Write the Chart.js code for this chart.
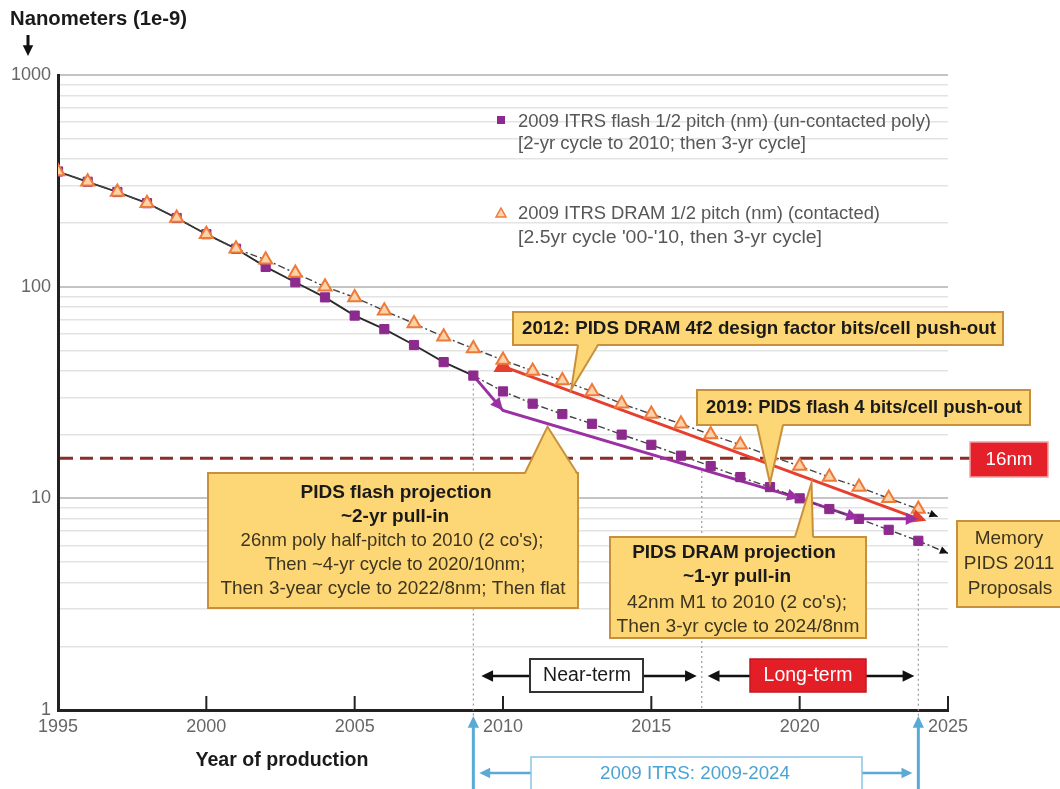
<!DOCTYPE html>
<html>
<head>
<meta charset="utf-8">
<script src="https://cdn.jsdelivr.net/npm/chart.js@4.4.1/dist/chart.umd.min.js"></script>
<style>
  html, body { margin: 0; padding: 0; background: #fff; }
  #wrap { width: 1060px; height: 789px; position: relative; }
</style>
</head>
<body>
<div id="wrap"><canvas id="chart" width="1060" height="789"></canvas></div>
<script>
// --- data ---
const years = [1995, 1996, 1997, 1998, 1999, 2000, 2001, 2002, 2003, 2004, 2005, 2006, 2007, 2008, 2009,
               2010, 2011, 2012, 2013, 2014, 2015, 2016, 2017, 2018, 2019, 2020, 2021, 2022, 2023, 2024];
const flashNm = [350, 313, 280, 248, 211, 177, 151, 124, 105, 89, 73, 63, 53, 44, 38,
                 32, 28, 25, 22.5, 20, 17.9, 15.9, 14.2, 12.6, 11.3, 10.0, 8.9, 8.0, 7.1, 6.3];
const dramNm = [350, 313, 280, 248, 211, 177, 151, 134, 116, 100, 89, 77, 67, 58, 51,
                45, 40, 36, 32, 28, 25, 22.5, 20, 17.9, 15.9, 14.2, 12.6, 11.3, 10.0, 8.9];

// trend extensions past the last ITRS point
const dramTrendYears = [2024, 2024.65];
const dramTrendNm = [8.9, 8.2];
const flashTrendYears = [2024, 2025];
const flashTrendNm = [6.3, 5.5];

// PIDS 2011 proposals
const pidsDramYears = [2010, 2024];
const pidsDramNm = [42, 8];
const pidsFlashYears = [2009, 2010, 2020, 2022, 2024];
const pidsFlashNm = [38, 26, 10, 8, 8];

const limitNm = 16;
const termBounds = [2009, 2016.7, 2024];
const yMajorTicks = [1, 10, 100, 1000];

const FONT = '"Liberation Sans", Arial, sans-serif';

const purple = '#8c2a8e';
const orange = '#ee7a3a';
const triFill = '#fcd2a8';
const red = '#e5402f';
const pidsPurple = '#9b30a5';
const boxFill = '#fdd775';
const boxEdge = '#c8903c';
const blue = '#5aaad8';

const pts = (xs, vs) => xs.map((x, i) => ({ x: x, y: vs[i] }));

// value on a line (log interpolation) between data points
function onLine(xs, vs, yr) {
    for (let i = 1; i < xs.length; i++) {
        if (yr <= xs[i]) {
            const t = (yr - xs[i - 1]) / (xs[i] - xs[i - 1]);
            return Math.pow(10, Math.log10(vs[i - 1]) + t * (Math.log10(vs[i]) - Math.log10(vs[i - 1])));
        }
    }
    return vs[vs.length - 1];
}

function arrowHead(ctx, x1, y1, x2, y2, size, color) {
    const ang = Math.atan2(y2 - y1, x2 - x1);
    ctx.save();
    ctx.fillStyle = color;
    ctx.beginPath();
    ctx.moveTo(x2, y2);
    ctx.lineTo(x2 - size * Math.cos(ang - 0.45), y2 - size * Math.sin(ang - 0.45));
    ctx.lineTo(x2 - size * Math.cos(ang + 0.45), y2 - size * Math.sin(ang + 0.45));
    ctx.closePath();
    ctx.fill();
    ctx.restore();
}

function arrowLine(ctx, x1, y1, x2, y2, color, width, head) {
    ctx.save();
    ctx.strokeStyle = color;
    ctx.lineWidth = width;
    ctx.setLineDash([]);
    const ang = Math.atan2(y2 - y1, x2 - x1);
    ctx.beginPath();
    ctx.moveTo(x1, y1);
    ctx.lineTo(x2 - head * 0.8 * Math.cos(ang), y2 - head * 0.8 * Math.sin(ang));
    ctx.stroke();
    ctx.restore();
    arrowHead(ctx, x1, y1, x2, y2, head, color);
}

function box(ctx, x, y, w, h, fill, edge, lw) {
    ctx.save();
    ctx.fillStyle = fill;
    ctx.fillRect(x, y, w, h);
    ctx.strokeStyle = edge;
    ctx.lineWidth = lw || 2;
    ctx.strokeRect(x, y, w, h);
    ctx.restore();
}

// callout pointer from a box edge (base a..b at baseY) to a tip
function pointer(ctx, ax, bx, baseY, tx, ty) {
    const dir = ty < baseY ? 1 : -1;
    ctx.save();
    ctx.fillStyle = boxFill;
    ctx.beginPath();
    ctx.moveTo(ax, baseY + dir * 2);
    ctx.lineTo(tx, ty);
    ctx.lineTo(bx, baseY + dir * 2);
    ctx.closePath();
    ctx.fill();
    ctx.strokeStyle = boxEdge;
    ctx.lineWidth = 2;
    ctx.beginPath();
    ctx.moveTo(ax, baseY);
    ctx.lineTo(tx, ty);
    ctx.lineTo(bx, baseY);
    ctx.stroke();
    ctx.restore();
}

// text, optionally squeezed to the width it has in the picture
function text(ctx, str, x, y, size, color, bold, align, width) {
    ctx.save();
    ctx.font = (bold ? 'bold ' : '') + size + 'px ' + FONT;
    ctx.fillStyle = color;
    ctx.textBaseline = 'middle';
    ctx.textAlign = 'left';
    const natural = ctx.measureText(str).width;
    const w = width || natural;
    let left = x;
    if (!align || align === 'center') left = x - w / 2;
    else if (align === 'right') left = x - w;
    ctx.translate(left, y);
    ctx.scale(w / natural, 1);
    ctx.fillText(str, 0, 0);
    ctx.restore();
}

const overlay = {
    id: 'overlay',
    beforeDatasetsDraw(chart) {
        const { ctx, chartArea: a, scales: { x, y } } = chart;
        ctx.save();
        // dotted term boundaries
        ctx.strokeStyle = '#9a9a9a';
        ctx.lineWidth = 1.2;
        ctx.setLineDash([2, 3]);
        termBounds.forEach((yr, i) => {
            const px = x.getPixelForValue(yr);
            const top = y.getPixelForValue(onLine(years, flashNm, yr)) + 8;
            const bottom = i === 1 ? a.bottom : 789;
            ctx.beginPath();
            ctx.moveTo(px, top);
            ctx.lineTo(px, bottom);
            ctx.stroke();
        });
        // 16nm line
        const py = y.getPixelForValue(limitNm) + 3;
        ctx.strokeStyle = '#8a2e2a';
        ctx.lineWidth = 3;
        ctx.setLineDash([13, 7]);
        ctx.beginPath();
        ctx.moveTo(a.left + 2, py);
        ctx.lineTo(970, py);
        ctx.stroke();
        ctx.restore();
    },
    afterDatasetsDraw(chart) {
        const { ctx, chartArea: a, scales: { x, y } } = chart;
        const P = (xx, vv) => [x.getPixelForValue(xx), y.getPixelForValue(vv)];

        // arrowheads on trend extensions
        [[dramTrendYears, dramTrendNm], [flashTrendYears, flashTrendNm]].forEach(([xs, vs]) => {
            const p0 = P(xs[0], vs[0]);
            const p1 = P(xs[1], vs[1]);
            arrowHead(ctx, p0[0], p0[1], p1[0], p1[1], 9, '#111');
        });
        // PIDS DRAM end arrow
        const mD = chart.getDatasetMeta(4).data;
        arrowHead(ctx, mD[0].x, mD[0].y, mD[1].x + 8, mD[1].y + 2, 16, red);
        // PIDS flash arrows
        const mF = chart.getDatasetMeta(5).data;
        for (let j = 1; j < mF.length; j++) {
            arrowHead(ctx, mF[j - 1].x, mF[j - 1].y, mF[j].x, mF[j].y, 14, pidsPurple);
        }

        // x-axis inner ticks
        ctx.save();
        ctx.strokeStyle = '#222';
        ctx.lineWidth = 2;
        x.ticks.forEach(t => {
            if (t.value === 1995) return;
            const px = x.getPixelForValue(t.value);
            ctx.beginPath();
            ctx.moveTo(px, a.bottom);
            ctx.lineTo(px, a.bottom - 14);
            ctx.stroke();
        });
        ctx.restore();

        // legend
        ctx.save();
        ctx.fillStyle = purple;
        ctx.fillRect(497, 116, 8, 8);
        ctx.fillStyle = triFill;
        ctx.strokeStyle = orange;
        ctx.lineWidth = 1.5;
        ctx.beginPath();
        ctx.moveTo(501, 208); ctx.lineTo(506, 217); ctx.lineTo(496, 217); ctx.closePath();
        ctx.fill(); ctx.stroke();
        ctx.restore();
        const lg = '#575757';
        text(ctx, '2009 ITRS flash 1/2 pitch (nm) (un-contacted poly)', 518, 122, 18, lg, false, 'left', 413);
        text(ctx, '[2-yr cycle to 2010; then 3-yr cycle]', 518, 144, 18, lg, false, 'left', 288);
        text(ctx, '2009 ITRS DRAM 1/2 pitch (nm) (contacted)', 518, 214, 18, lg, false, 'left', 362);
        text(ctx, "[2.5yr cycle '00-'10, then 3-yr cycle]", 518, 238, 18, lg, false, 'left', 304);

        const dark = '#1a1a1a';
        const body = '#3d3520';

        // 2012 callout
        box(ctx, 513, 312, 490, 33, boxFill, boxEdge);
        let tip = P(2012.3, onLine(pidsDramYears, pidsDramNm, 2012.3));
        pointer(ctx, 578, 598, 345, tip[0], tip[1] - 2);
        text(ctx, '2012: PIDS DRAM 4f2 design factor bits/cell push-out', 759, 329, 19, dark, true, 'center', 474);

        // 2019 callout
        box(ctx, 697, 390, 333, 35, boxFill, boxEdge);
        tip = P(2019, onLine(years, flashNm, 2019));
        pointer(ctx, 757, 783, 425, tip[0], tip[1] - 4);
        text(ctx, '2019: PIDS flash 4 bits/cell push-out', 864, 408, 19, dark, true, 'center', 316);

        // 16nm tag
        box(ctx, 970, 442, 78, 35, '#e4202a', '#f4a0a0', 1.5);
        text(ctx, '16nm', 1009, 460, 19, '#fff', false, 'center', 47);

        // PIDS flash box
        box(ctx, 208, 473, 370, 135, boxFill, boxEdge);
        tip = P(2011.5, onLine(pidsFlashYears, pidsFlashNm, 2011.5));
        pointer(ctx, 525, 577, 473, tip[0], tip[1] + 3);
        text(ctx, 'PIDS flash projection', 396, 493, 19, dark, true);
        text(ctx, '~2-yr pull-in', 395, 517, 19, dark, true);
        text(ctx, "26nm poly half-pitch to 2010 (2 co's);", 392, 541, 18.5, body, false);
        text(ctx, 'Then ~4-yr cycle to 2020/10nm;', 395, 565, 18.5, body, false);
        text(ctx, 'Then 3-year cycle to 2022/8nm; Then flat', 393, 589, 18.5, body, false, 'center', 345);

        // PIDS DRAM box
        box(ctx, 610, 537, 256, 101, boxFill, boxEdge);
        tip = P(2020.4, onLine(pidsDramYears, pidsDramNm, 2020.4));
        pointer(ctx, 795, 813, 537, tip[0], tip[1] + 3);
        text(ctx, 'PIDS DRAM projection', 734, 553, 19, dark, true);
        text(ctx, '~1-yr pull-in', 737, 577, 19, dark, true);
        text(ctx, "42nm M1 to 2010 (2 co's);", 737, 603, 19, body, false);
        text(ctx, 'Then 3-yr cycle to 2024/8nm', 738, 627, 19, body, false, 'center', 243);

        // Memory PIDS box
        box(ctx, 957, 521, 110, 86, boxFill, boxEdge);
        text(ctx, 'Memory', 1009, 539, 19, body, false);
        text(ctx, 'PIDS 2011', 1009, 564, 19, body, false);
        text(ctx, 'Proposals', 1010, 589, 19, body, false);

        // near / long term arrows
        const xa = x.getPixelForValue(termBounds[0]);
        const xb = x.getPixelForValue(termBounds[1]);
        const xc = x.getPixelForValue(termBounds[2]);
        const ty = 676;
        arrowLine(ctx, 530, ty, xa + 8, ty, '#111', 2.5, 13);
        arrowLine(ctx, 643, ty, xb - 5, ty, '#111', 2.5, 13);
        box(ctx, 530, 659, 113, 33, '#fff', '#333', 2);
        text(ctx, 'Near-term', 587, 676, 19.5, dark, false);
        arrowLine(ctx, 750, ty, xb + 6, ty, '#111', 2.5, 13);
        arrowLine(ctx, 866, ty, xc - 4, ty, '#111', 2.5, 13);
        box(ctx, 750, 659, 116, 33, '#e31e26', '#c01820', 1.5);
        text(ctx, 'Long-term', 808, 676, 19.5, '#fff', false);

        // blue ITRS span
        arrowLine(ctx, xa, 789, xa, 716, blue, 3, 13);
        arrowLine(ctx, xc, 789, xc, 716, blue, 3, 13);
        arrowLine(ctx, 531, 773, xa + 6, 773, blue, 2.5, 12);
        arrowLine(ctx, 862, 773, xc - 6, 773, blue, 2.5, 12);
        box(ctx, 531, 757, 331, 36, '#fff', '#8cc4e4', 1.5);
        text(ctx, '2009 ITRS: 2009-2024', 695, 774, 19, '#4ba3d4', false, 'center', 190);

        // titles
        text(ctx, 'Nanometers (1e-9)', 10, 19, 20, dark, true, 'left', 177);
        arrowLine(ctx, 28, 35, 28, 56, '#111', 3, 12);
        text(ctx, 'Year of production', 282, 760, 20, dark, true, 'center', 173);
    }
};

const dashDot = [7, 3, 2, 3];

new Chart(document.getElementById('chart'), {
    type: 'line',
    data: {
        datasets: [
            {
                label: '2009 ITRS flash 1/2 pitch (nm) (un-contacted poly)',
                data: pts(years, flashNm),
                borderColor: '#2a2a2a',
                borderWidth: 1.8,
                pointStyle: 'rect',
                pointRadius: 6.5,
                pointBackgroundColor: purple,
                pointBorderColor: purple,
                pointBorderWidth: 1,
                segment: {
                    borderDash: c => c.p0.parsed.x >= 2009 ? dashDot : undefined,
                    borderColor: c => c.p0.parsed.x >= 2009 ? '#444' : undefined,
                    borderWidth: c => c.p0.parsed.x >= 2009 ? 1.4 : undefined
                },
                order: 2
            },
            {
                label: '2009 ITRS DRAM 1/2 pitch (nm) (contacted)',
                data: pts(years, dramNm),
                borderColor: '#444',
                borderWidth: 1.4,
                borderDash: dashDot,
                pointStyle: 'triangle',
                pointRadius: 7.5,
                pointBackgroundColor: triFill,
                pointBorderColor: orange,
                pointBorderWidth: 2,
                order: 1
            },
            {
                label: 'DRAM trend',
                data: pts(dramTrendYears, dramTrendNm),
                borderColor: '#333',
                borderWidth: 1.4,
                borderDash: dashDot,
                pointRadius: 0,
                order: 3
            },
            {
                label: 'flash trend',
                data: pts(flashTrendYears, flashTrendNm),
                borderColor: '#333',
                borderWidth: 1.4,
                borderDash: dashDot,
                pointRadius: 0,
                order: 3
            },
            {
                label: 'PIDS DRAM',
                data: pts(pidsDramYears, pidsDramNm),
                borderColor: red,
                borderWidth: 3,
                pointStyle: 'triangle',
                pointRadius: [8, 0],
                pointBackgroundColor: red,
                pointBorderColor: red,
                order: 4
            },
            {
                label: 'PIDS flash',
                data: pts(pidsFlashYears, pidsFlashNm),
                borderColor: pidsPurple,
                borderWidth: 3,
                pointRadius: 0,
                order: 4
            }
        ]
    },
    options: {
        responsive: false,
        animation: false,
        events: [],
        layout: { padding: { top: 75, right: 112, left: 0, bottom: 0 } },
        plugins: {
            legend: { display: false },
            tooltip: { enabled: false }
        },
        scales: {
            x: {
                type: 'linear',
                min: 1995,
                max: 2025,
                afterFit: s => { s.height = 79; },
                ticks: {
                    stepSize: 5,
                    padding: 6,
                    color: '#666',
                    font: { family: FONT, size: 18 },
                    callback: v => String(v)
                },
                grid: { display: false, drawTicks: false },
                border: { color: '#222', width: 3 }
            },
            y: {
                type: 'logarithmic',
                min: 1,
                max: 1000,
                afterFit: s => { s.width = 58; },
                afterBuildTicks: s => {
                    const t = [];
                    [1, 10, 100].forEach(d => { for (let k = 1; k < 10; k++) t.push({ value: d * k }); });
                    t.push({ value: 1000 });
                    s.ticks = t;
                },
                ticks: {
                    padding: 7,
                    color: '#666',
                    font: { family: FONT, size: 18 },
                    autoSkip: false,
                    callback: v => yMajorTicks.includes(v) ? String(v) : ''
                },
                grid: {
                    drawTicks: false,
                    color: c => yMajorTicks.includes(c.tick.value) ? '#c4c4c4' : '#e3e3e3',
                    lineWidth: c => yMajorTicks.includes(c.tick.value) ? 2 : 1.5
                },
                border: { color: '#222', width: 3 }
            }
        }
    },
    plugins: [overlay]
});
</script>
</body>
</html>
